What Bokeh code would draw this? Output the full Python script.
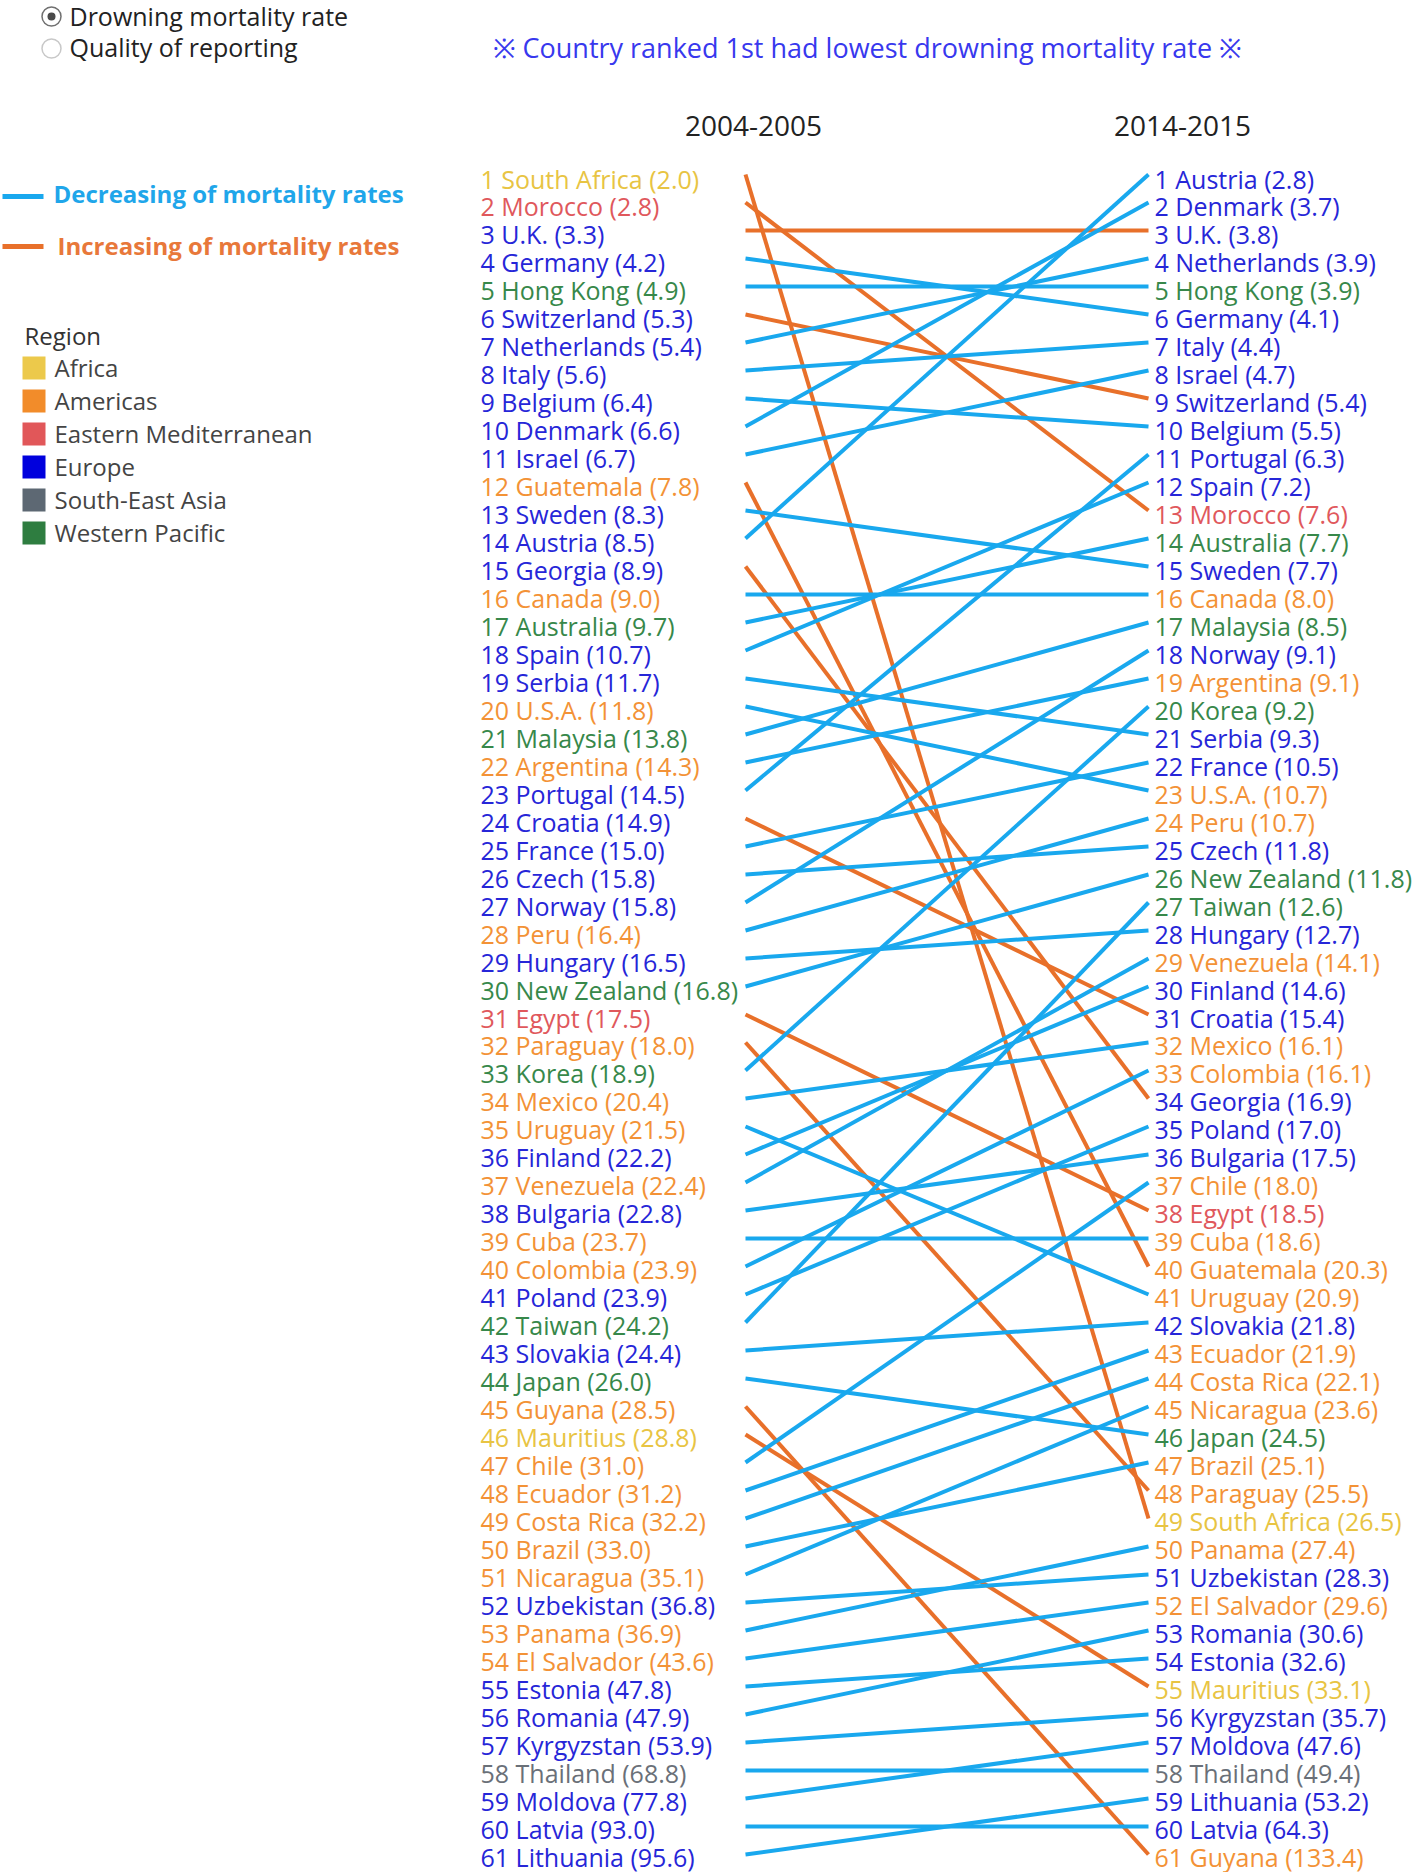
from bokeh.plotting import figure
from bokeh.models import Range1d, ColumnDataSource
from bokeh.core.properties import value
from bokeh.embed import file_html
from bokeh.resources import INLINE

# ---------------- data ----------------
countries_0405 = ["South Africa", "Morocco", "U.K.", "Germany", "Hong Kong", "Switzerland",
                  "Netherlands", "Italy", "Belgium", "Denmark", "Israel", "Guatemala", "Sweden",
                  "Austria", "Georgia", "Canada", "Australia", "Spain", "Serbia", "U.S.A.",
                  "Malaysia", "Argentina", "Portugal", "Croatia", "France", "Czech", "Norway",
                  "Peru", "Hungary", "New Zealand", "Egypt", "Paraguay", "Korea", "Mexico",
                  "Uruguay", "Finland", "Venezuela", "Bulgaria", "Cuba", "Colombia", "Poland",
                  "Taiwan", "Slovakia", "Japan", "Guyana", "Mauritius", "Chile", "Ecuador",
                  "Costa Rica", "Brazil", "Nicaragua", "Uzbekistan", "Panama", "El Salvador",
                  "Estonia", "Romania", "Kyrgyzstan", "Thailand", "Moldova", "Latvia", "Lithuania"]
rates_0405 = [2.0, 2.8, 3.3, 4.2, 4.9, 5.3, 5.4, 5.6, 6.4, 6.6, 6.7, 7.8, 8.3, 8.5, 8.9, 9.0,
              9.7, 10.7, 11.7, 11.8, 13.8, 14.3, 14.5, 14.9, 15.0, 15.8, 15.8, 16.4, 16.5, 16.8,
              17.5, 18.0, 18.9, 20.4, 21.5, 22.2, 22.4, 22.8, 23.7, 23.9, 23.9, 24.2, 24.4, 26.0,
              28.5, 28.8, 31.0, 31.2, 32.2, 33.0, 35.1, 36.8, 36.9, 43.6, 47.8, 47.9, 53.9, 68.8,
              77.8, 93.0, 95.6]

countries_1415 = ["Austria", "Denmark", "U.K.", "Netherlands", "Hong Kong", "Germany", "Italy",
                  "Israel", "Switzerland", "Belgium", "Portugal", "Spain", "Morocco", "Australia",
                  "Sweden", "Canada", "Malaysia", "Norway", "Argentina", "Korea", "Serbia",
                  "France", "U.S.A.", "Peru", "Czech", "New Zealand", "Taiwan", "Hungary",
                  "Venezuela", "Finland", "Croatia", "Mexico", "Colombia", "Georgia", "Poland",
                  "Bulgaria", "Chile", "Egypt", "Cuba", "Guatemala", "Uruguay", "Slovakia",
                  "Ecuador", "Costa Rica", "Nicaragua", "Japan", "Brazil", "Paraguay",
                  "South Africa", "Panama", "Uzbekistan", "El Salvador", "Romania", "Estonia",
                  "Mauritius", "Kyrgyzstan", "Moldova", "Thailand", "Lithuania", "Latvia", "Guyana"]
rates_1415 = [2.8, 3.7, 3.8, 3.9, 3.9, 4.1, 4.4, 4.7, 5.4, 5.5, 6.3, 7.2, 7.6, 7.7, 7.7, 8.0,
              8.5, 9.1, 9.1, 9.2, 9.3, 10.5, 10.7, 10.7, 11.8, 11.8, 12.6, 12.7, 14.1, 14.6,
              15.4, 16.1, 16.1, 16.9, 17.0, 17.5, 18.0, 18.5, 18.6, 20.3, 20.9, 21.8, 21.9, 22.1,
              23.6, 24.5, 25.1, 25.5, 26.5, 27.4, 28.3, 29.6, 30.6, 32.6, 33.1, 35.7, 47.6, 49.4,
              53.2, 64.3, 133.4]

region_names = ["Africa", "Americas", "Eastern Mediterranean", "Europe", "South-East Asia",
                "Western Pacific"]
africa = ["South Africa", "Mauritius"]
americas = ["Guatemala", "Canada", "U.S.A.", "Argentina", "Peru", "Paraguay", "Mexico",
            "Uruguay", "Venezuela", "Cuba", "Colombia", "Guyana", "Chile", "Ecuador",
            "Costa Rica", "Brazil", "Nicaragua", "Panama", "El Salvador"]
eastern_med = ["Morocco", "Egypt"]
south_east_asia = ["Thailand"]
western_pacific = ["Hong Kong", "Australia", "Malaysia", "New Zealand", "Korea", "Taiwan", "Japan"]

period_labels = ["2004-2005", "2014-2015"]

# ---------------- styles ----------------
FONT = value("Open Sans")
swatch_color = {"Africa": "#ecc94b", "Americas": "#f28c2a", "Eastern Mediterranean": "#e15759",
                "Europe": "#0000dd", "South-East Asia": "#5d6873", "Western Pacific": "#2e7d40"}
text_color = {"Africa": "#e8c443", "Americas": "#f39236", "Eastern Mediterranean": "#e0585c",
              "Europe": "#2626d8", "South-East Asia": "#6a7078", "Western Pacific": "#37884a"}
DEC = "#19a8ee"
INC = "#e8702a"
TDY = -10  # correction so that the text baseline lands on the given y


def region_of(c):
    if c in africa:
        return "Africa"
    if c in americas:
        return "Americas"
    if c in eastern_med:
        return "Eastern Mediterranean"
    if c in south_east_asia:
        return "South-East Asia"
    if c in western_pacific:
        return "Western Pacific"
    return "Europe"


W, H = 1418, 1872
STEP = 28.0
TOP1 = 174.0  # pixel of rank 1
p = figure(width=W, height=H, output_backend="svg", toolbar_location=None,
           x_range=Range1d(0, W),
           y_range=Range1d(1 + (H - TOP1) / STEP, 1 - TOP1 / STEP),
           min_border=0, outline_line_color=None, background_fill_color="white",
           border_fill_color="white")
p.axis.visible = False
p.grid.visible = False


def fy(page_y):
    return 1 + (page_y - TOP1) / STEP


XL_LINE, XR_LINE = 745, 1148
XL_TEXT, XR_TEXT = 480, 1154

# ---------------- connecting lines ----------------
n = len(countries_0405)
r0 = list(range(1, n + 1))
r1 = [countries_1415.index(c) + 1 for c in countries_0405]
colors = [INC if rates_1415[countries_1415.index(c)] > rates_0405[i] else DEC
          for i, c in enumerate(countries_0405)]
seg = ColumnDataSource(dict(x0=[XL_LINE] * n, x1=[XR_LINE] * n, y0=r0, y1=r1, color=colors))
p.segment(x0="x0", y0="y0", x1="x1", y1="y1", color="color", line_width=4, source=seg)

# ---------------- labels ----------------
label_dy = [14 + TDY - 2.0 * k / (n - 1) for k in range(n)]
left = ColumnDataSource(dict(
    x=[XL_TEXT] * n, y=r0, dy=label_dy,
    t=[f"{i + 1} {c} ({rates_0405[i]:.1f})" for i, c in enumerate(countries_0405)],
    col=[text_color[region_of(c)] for c in countries_0405]))
right = ColumnDataSource(dict(
    x=[XR_TEXT] * n, y=list(range(1, n + 1)), dy=label_dy,
    t=[f"{i + 1} {c} ({rates_1415[i]:.1f})" for i, c in enumerate(countries_1415)],
    col=[text_color[region_of(c)] for c in countries_1415]))
for src in (left, right):
    p.text(x="x", y="y", text="t", text_color="col", source=src, text_font=FONT,
           text_font_size="25px", text_baseline="alphabetic", text_align="left",
           y_offset="dy")

# ---------------- headers ----------------
p.text(x=[753, 1182], y=[fy(135), fy(135)], text=period_labels, text_font=FONT,
       text_font_size="28px", text_color="#222222", text_align="center",
       text_baseline="alphabetic", y_offset=TDY)
p.text(x=[492], y=[fy(57)],
       text=["※ Country ranked 1st had lowest drowning mortality rate ※"],
       text_font=FONT, text_font_size="27px", text_color="#3838ee", text_align="left",
       text_baseline="alphabetic", y_offset=TDY)

# ---------------- radio buttons ----------------
p.scatter(x=[51, 51], y=[fy(16), fy(48)], marker="circle", size=19,
          fill_color="white", line_color=["#707070", "#c8c8c8"], line_width=1.5)
p.scatter(x=[51], y=[fy(16)], marker="circle", size=8, fill_color="#4a4a4a",
          line_color=None)
p.text(x=[69, 69], y=[fy(25), fy(56)],
       text=["Drowning mortality rate", "Quality of reporting"],
       text_font=FONT, text_font_size="25px", text_color="#222222",
       text_baseline="alphabetic", y_offset=TDY)

# ---------------- trend legend ----------------
p.segment(x0=[2, 2], x1=[43, 43], y0=[fy(196), fy(246)],
          y1=[fy(196), fy(246)], color=[DEC, INC], line_width=5)
p.text(x=[53, 57], y=[fy(203), fy(255)],
       text=["Decreasing of mortality rates", "Increasing of mortality rates"],
       text_font=FONT, text_font_size="24px", text_font_style="bold",
       text_color=["#1fa6ea", "#e8783a"], text_baseline="alphabetic", y_offset=TDY)

# ---------------- region legend ----------------
p.text(x=[24], y=[fy(345)], text=["Region"], text_font=FONT, text_font_size="24px",
       text_color="#333333", text_baseline="alphabetic", y_offset=TDY)
sq_y = [fy(367.5 + 33 * k) for k in range(len(region_names))]
p.scatter(x=[33.5] * len(region_names), y=sq_y, marker="square", size=23,
          fill_color=[swatch_color[r] for r in region_names], line_color=None)
p.text(x=[54] * len(region_names), y=[fy(377 + 33 * k) for k in range(len(region_names))],
       text=region_names, text_font=FONT, text_font_size="24px", text_color="#444444",
       text_baseline="alphabetic", y_offset=TDY)

open("out.html", "w").write(file_html(p, INLINE))
